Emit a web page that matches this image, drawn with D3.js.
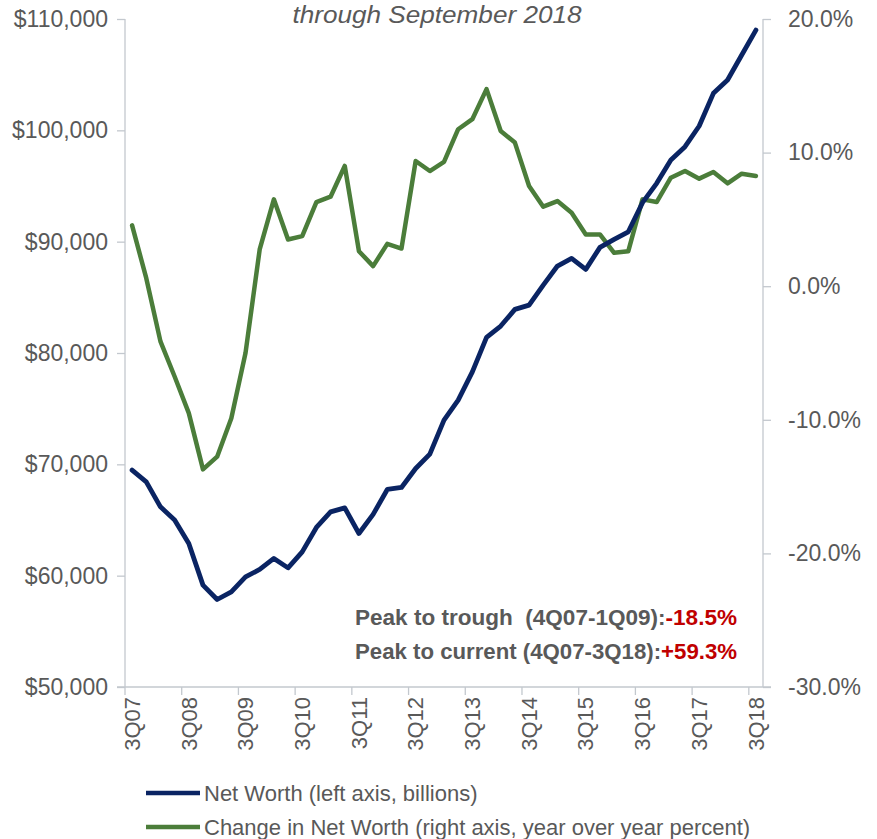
<!DOCTYPE html>
<html>
<head>
<meta charset="utf-8">
<script src="https://cdn.jsdelivr.net/npm/d3@7"></script>
<style>
  html, body { margin: 0; padding: 0; background: #ffffff; }
  svg { display: block; }
  text { font-family: "Liberation Sans", Arial, sans-serif; }
</style>
</head>
<body>
<svg id="chart" width="877" height="839"></svg>
<script>
// Quarterly household net worth, 3Q07 through 3Q18
const quarters = [
  "3Q07","4Q07",
  "1Q08","2Q08","3Q08","4Q08",
  "1Q09","2Q09","3Q09","4Q09",
  "1Q10","2Q10","3Q10","4Q10",
  "1Q11","2Q11","3Q11","4Q11",
  "1Q12","2Q12","3Q12","4Q12",
  "1Q13","2Q13","3Q13","4Q13",
  "1Q14","2Q14","3Q14","4Q14",
  "1Q15","2Q15","3Q15","4Q15",
  "1Q16","2Q16","3Q16","4Q16",
  "1Q17","2Q17","3Q17","4Q17",
  "1Q18","2Q18","3Q18"
];

// Net worth, billions of dollars (left axis)
const netWorth = [
  69480, 68430,
  66180, 64990, 62890, 59150,
  57860, 58550, 59890, 60560,
  61550, 60700, 62140, 64330,
  65730, 66090, 63790, 65500,
  67740, 67920, 69630, 70920,
  73970, 75770, 78310, 81400,
  82420, 83920, 84300, 86100,
  87810, 88500, 87510, 89490,
  90210, 90890, 93500, 95240,
  97330, 98530, 100390, 103320,
  104520, 106770, 109000
];

// Year-over-year change in net worth, percent (right axis)
const yoyChange = [
  4.55, 0.6,
  -4.13, -6.76, -9.50, -13.71,
  -12.76, -9.88, -5.0, 2.75,
  6.50, 3.50, 3.75, 6.30,
  6.70, 9.0, 2.62, 1.5,
  3.17, 2.82, 9.37, 8.62,
  9.30, 11.75, 12.50, 14.75,
  11.62, 10.75, 7.50, 5.95,
  6.37, 5.50, 3.87, 3.87,
  2.50, 2.62, 6.50, 6.30,
  8.12, 8.62, 8.05, 8.55,
  7.70, 8.42, 8.25
];

const leftTicks = [50000, 60000, 70000, 80000, 90000, 100000, 110000];
const rightTicks = [-30, -20, -10, 0, 10, 20];
const labelQuarters = ["3Q07","3Q08","3Q09","3Q10","3Q11","3Q12","3Q13","3Q14","3Q15","3Q16","3Q17","3Q18"];

const subtitle = "through September 2018";
const seriesNames = ["Net Worth (left axis, billions)", "Change in Net Worth (right axis, year over year percent)"];
const notes = [
  { label: "Peak to trough  (4Q07-1Q09):", value: "-18.5%" },
  { label: "Peak to current (4Q07-3Q18):", value: "+59.3%" }
];

const colors = { worth: "#0a2463", change: "#4b7d3a", axis: "#c3c8ce", text: "#595959", red: "#c00000" };

const svg = d3.select("#chart");
const plot = { left: 125, right: 763, top: 19, bottom: 687 };

const x = d3.scaleBand().domain(quarters).range([plot.left, plot.right]).paddingInner(0).paddingOuter(0);
const cx = q => x(q) + x.bandwidth() / 2;
const yL = d3.scaleLinear().domain([50000, 110000]).range([plot.bottom, plot.top]);
const yR = d3.scaleLinear().domain([-30, 20]).range([plot.bottom, plot.top]);

// Subtitle
svg.append("text")
  .attr("x", 437).attr("y", 23)
  .attr("text-anchor", "middle")
  .attr("font-size", 24.5).attr("font-style", "italic")
  .attr("textLength", 289).attr("lengthAdjust", "spacingAndGlyphs")
  .attr("fill", colors.text)
  .text(subtitle);

function styleAxis(g) {
  g.select(".domain").remove();
  g.selectAll(".tick line").attr("stroke", colors.axis).attr("stroke-width", 1.3);
  g.selectAll(".tick text").attr("fill", colors.text).attr("font-size", 23)
    .attr("font-family", "'Liberation Sans', Arial, sans-serif");
}

// Left axis
const gL = svg.append("g").attr("transform", `translate(${plot.left},0)`)
  .call(d3.axisLeft(yL).tickValues(leftTicks).tickSize(8).tickPadding(9)
    .tickFormat(d => "$" + d3.format(",")(d)));
styleAxis(gL);

// Right axis (plain hyphen for negatives)
const pct = d3.formatLocale({ decimal: ".", thousands: ",", grouping: [3], currency: ["$", ""], minus: "-" }).format(".1f");
const gR = svg.append("g").attr("transform", `translate(${plot.right},0)`)
  .call(d3.axisRight(yR).tickValues(rightTicks).tickSize(8).tickPadding(17)
    .tickFormat(d => pct(d) + "%"));
styleAxis(gR);

// Bottom axis: labels centred on quarters, tick marks on year boundaries
const gB = svg.append("g").attr("transform", `translate(0,${plot.bottom})`)
  .call(d3.axisBottom(x).tickValues(labelQuarters).tickSize(0).tickPadding(0));
gB.select(".domain").remove();
gB.selectAll(".tick text")
  .attr("fill", colors.text).attr("font-size", 22)
  .attr("text-anchor", "end")
  .attr("dy", "0.35em")
  .attr("transform", "translate(0,10) rotate(-90)")
  .attr("x", 0).attr("y", 0);
gB.selectAll(".tick line").remove();
gB.selectAll("line.qtick").data(labelQuarters).join("line")
  .attr("class", "qtick")
  .attr("x1", d => x(d)).attr("x2", d => x(d))
  .attr("y1", 0).attr("y2", 8)
  .attr("stroke", colors.axis).attr("stroke-width", 1.3);

// Axis lines
svg.append("line").attr("x1", plot.left).attr("x2", plot.left).attr("y1", plot.top).attr("y2", plot.bottom)
  .attr("stroke", colors.axis).attr("stroke-width", 1.3);
svg.append("line").attr("x1", plot.right).attr("x2", plot.right).attr("y1", plot.top).attr("y2", plot.bottom)
  .attr("stroke", colors.axis).attr("stroke-width", 1.3);
svg.append("line").attr("x1", plot.left - 8).attr("x2", plot.right + 8).attr("y1", plot.bottom).attr("y2", plot.bottom)
  .attr("stroke", colors.axis).attr("stroke-width", 1.3);

// Series lines
const worthLine = d3.line().x((d, i) => cx(quarters[i])).y(d => yL(d));
const changeLine = d3.line().x((d, i) => cx(quarters[i])).y(d => yR(d));

svg.append("path").datum(yoyChange)
  .attr("d", changeLine)
  .attr("fill", "none").attr("stroke", colors.change).attr("stroke-width", 4.5)
  .attr("stroke-linejoin", "round").attr("stroke-linecap", "round");

svg.append("path").datum(netWorth)
  .attr("d", worthLine)
  .attr("fill", "none").attr("stroke", colors.worth).attr("stroke-width", 4.8)
  .attr("stroke-linejoin", "round").attr("stroke-linecap", "round");

// Peak-to-trough / peak-to-current notes
notes.forEach((n, i) => {
  const t = svg.append("text")
    .attr("x", 355).attr("y", 625 + i * 34)
    .attr("font-size", 22).attr("font-weight", "bold")
    .style("white-space", "pre")
    .attr("textLength", 382).attr("lengthAdjust", "spacingAndGlyphs");
  t.append("tspan").attr("fill", colors.text).text(n.label);
  t.append("tspan").attr("fill", colors.red).text(n.value);
});

// Legend
const legend = svg.append("g");
[colors.worth, colors.change].forEach((c, i) => {
  const yy = 793 + i * 34;
  legend.append("line").attr("x1", 146).attr("x2", 200).attr("y1", yy).attr("y2", yy)
    .attr("stroke", c).attr("stroke-width", 4.5);
  legend.append("text").attr("x", 204).attr("y", yy + 8)
    .attr("font-size", 22).attr("fill", colors.text)
    .text(seriesNames[i]);
});
</script>
</body>
</html>
